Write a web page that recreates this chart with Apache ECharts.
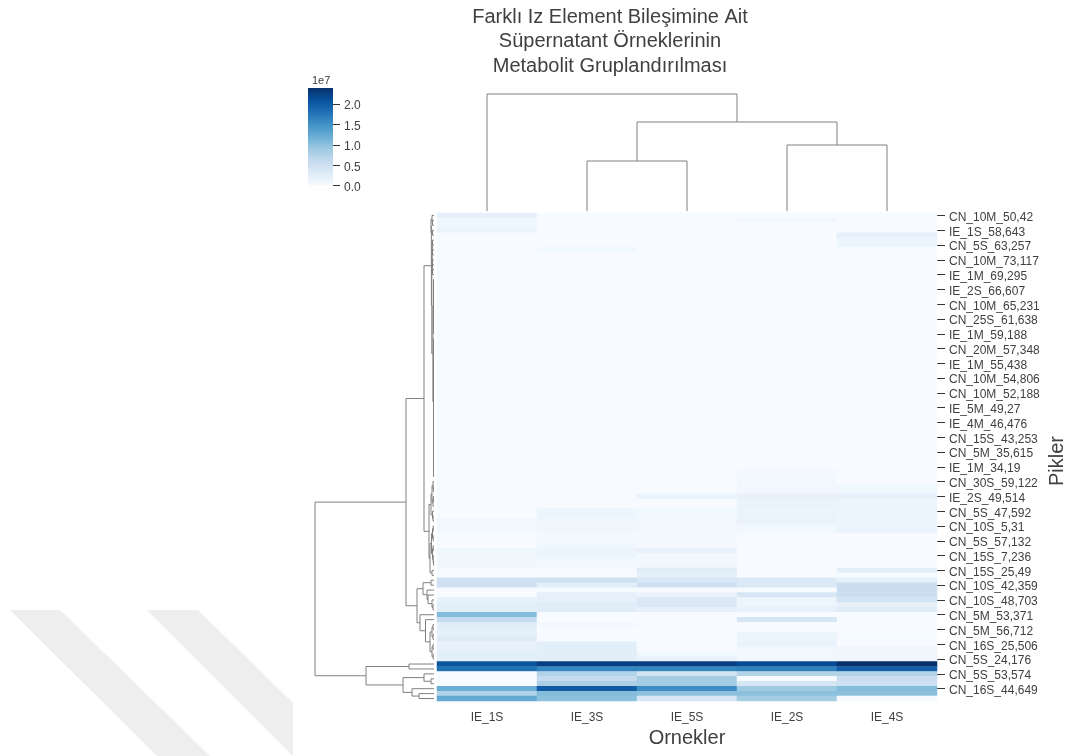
<!DOCTYPE html>
<html>
<head>
<meta charset="utf-8">
<script src="https://cdn.jsdelivr.net/npm/echarts@6/dist/echarts.min.js"></script>
<style>html,body{margin:0;padding:0;background:#fff}#c{width:1068px;height:756px}</style>
</head>
<body>
<div id="c"></div>
<script>
const FONT = '"Liberation Sans", Arial, sans-serif';
const samples = ['IE_1S', 'IE_3S', 'IE_5S', 'IE_2S', 'IE_4S'];
const peakLabels = ['CN_10M_50,42','IE_1S_58,643','CN_5S_63,257','CN_10M_73,117','IE_1M_69,295','IE_2S_66,607','CN_10M_65,231','CN_25S_61,638','IE_1M_59,188','CN_20M_57,348','IE_1M_55,438','CN_10M_54,806','CN_10M_52,188','IE_5M_49,27','IE_4M_46,476','CN_15S_43,253','CN_5M_35,615','IE_1M_34,19','CN_30S_59,122','IE_2S_49,514','CN_5S_47,592','CN_10S_5,31','CN_5S_57,132','CN_15S_7,236','CN_15S_25,49','CN_10S_42,359','CN_10S_48,703','CN_5M_53,371','CN_5M_56,712','CN_16S_25,506','CN_5S_24,176','CN_5S_53,574','CN_16S_44,649'];
const BLUES = ['#f7fbff','#deebf7','#c6dbef','#9ecae1','#6baed6','#4292c6','#2171b5','#08519c','#08306b'];

// values in units of 1e7, one entry per row, top to bottom
const IE_1S = [
 .2,.1,.1,.14,0,0,0,0,0,0,
 0,0,0,0,0,0,0,0,0,0,
 0,0,0,0,0,0,0,0,0,0,
 0,0,0,0,0,0,0,0,0,0,
 0,0,0,0,0,0,0,0,0,0,
 0,0,0,0,0,0,0,0,0,0,
 0,0,.08,.08,.08,0,0,0,.1,.1,
 .1,.1,0,0,.5,.5,0,0,.18,.25,
 .25,1.05,.6,.28,.22,.22,.3,.18,.18,.25,
 .25,2.05,1.8,0,0,0,1.2,.75,1.25];
const IE_3S = [
 0,0,0,0,0,0,0,.08,0,0,
 0,0,0,0,0,0,0,0,0,0,
 0,0,0,0,0,0,0,0,0,0,
 0,0,0,0,0,0,0,0,0,0,
 0,0,0,0,0,0,0,0,0,0,
 0,0,0,0,0,0,0,0,0,0,
 .12,.12,.1,.1,.1,.05,.05,.1,.12,.12,
 .08,.08,0,0,.5,.25,.02,.2,.2,.28,
 .28,0,0,.06,0,0,0,.25,.25,.25,
 .25,2.25,1.6,.75,.6,.8,2.0,1.05,1.0];
const IE_5S = [
 0,0,0,0,0,0,0,0,0,0,
 0,0,0,0,0,0,0,0,0,0,
 0,0,0,0,0,0,0,0,0,0,
 0,0,0,0,0,0,0,0,0,0,
 0,0,0,0,0,0,0,0,0,0,
 0,0,0,0,0,0,0,.15,0,0,
 .08,.08,.08,.08,.08,.05,.05,.05,.18,.08,
 .08,.08,.28,.2,.38,.5,0,.15,.35,.35,
 .2,0,0,0,0,0,0,0,0,.08,
 .15,2.25,1.6,.45,.85,.85,1.55,1.0,.4];
const IE_2S = [
 0,.07,0,0,0,0,0,0,0,0,
 0,0,0,0,0,0,0,0,0,0,
 0,0,0,0,0,0,0,0,0,0,
 0,0,0,0,0,0,0,0,0,0,
 0,0,0,0,0,0,0,0,0,0,
 0,0,.05,.05,.08,.08,.08,.18,.15,.15,
 .12,.15,.15,.08,.08,0,0,0,0,0,
 0,0,0,0,.33,.33,0,.4,.12,.12,
 .18,0,.4,0,0,.12,.12,.15,.08,.08,
 .08,2.15,1.65,.75,0,.4,.9,1.0,.85];
const IE_4S = [
 0,0,0,0,.2,.12,.12,0,0,0,
 0,0,0,0,0,0,0,0,0,0,
 0,0,0,0,0,0,0,0,0,0,
 0,0,0,0,0,0,0,0,0,0,
 0,0,0,0,0,0,0,0,0,0,
 0,0,0,0,0,.08,.08,.2,.12,.12,
 .12,.12,.12,.12,.15,0,0,0,0,0,
 0,0,.25,0,.2,.55,.55,.55,.45,.18,
 .28,0,0,0,0,.02,0,0,.1,.1,
 .1,2.39,1.95,.75,.55,.5,1.05,1.0,0];
const columns = [IE_1S, IE_3S, IE_5S, IE_2S, IE_4S];
const valueMax = 2.39;

// dendrograms: node = [distance, child, child]; leaf = row or column index
const sampleTree = [117, 0, [89, [50, 1, 2], [66, 3, 4]]];
const rowTree = [119,
 [28,
  [10,
   [2.6,
    [3,[2,0,[1.5,1,2]],[1.5,3,4]],
    [2.2,
     [1.9,[1.7,[1.5,5,6],[1.5,7,8]],[1.7,[1.5,9,10],[1.5,11,12]]],
     [1.1,
      [.5,[.5,[.5,13,[.5,14,15]],[.5,16,[.5,17,18]]],[.5,[.5,19,[.5,20,21]],[.5,22,[.5,23,24]]]],
      [.5,
       [.5,[.5,[.5,25,26],[.5,[.5,27,28],[.5,29,30]]],[.5,[.5,[.5,31,32],[.5,33,34]],[.5,[.5,35,36],[.5,37,38]]]],
       [.5,[.5,[.5,39,40],[.5,[.5,41,42],[.5,43,44]]],[.5,[.5,[.5,45,46],[.5,47,48]],[.5,[.5,49,50],[.5,[.5,51,52],53]]]]
      ]
     ]
    ]
   ],
   [5,
    [3,[2,[1,54,[.6,55,56]],[1,[.6,57,58],59]],[1.5,60,[1,61,62]]],
    [4,
     [2.5,[1.5,[.8,63,64],[.8,65,66]],[1.5,[.8,67,68],[.8,69,[.4,70,71]]]],
     [2,72,73]
    ]
   ]
  ],
  [17,
   [11,
    [3,74,75],
    [7,76,[6,77,[2,78,[1,79,80]]]]
   ],
   [14,
    81,
    [8.5,
     82,
     [4,
      [2,[1,83,84],[1,85,86]],
      [2,[1,87,88],[.8,89,90]]
     ]
    ]
   ]
  ]
 ],
 [68,
  [25,91,92],
  [31,
   [10,93,[3,94,95]],
   [22,96,[15,97,98]]
  ]
 ]
];

function linksOf(tree) {
  const links = [];
  (function walk(n) {
    if (typeof n === 'number') return { pos: n + 0.5, d: 0 };
    const a = walk(n[1]), b = walk(n[2]);
    links.push([a.pos, b.pos, n[0], a.d, b.d]);
    return { pos: (a.pos + b.pos) / 2, d: n[0] };
  })(tree);
  return links;
}

const heatData = [];
columns.forEach((col, c) => col.forEach((v, r) => heatData.push([c, r, v * 1e7])));
const rowCats = IE_1S.map((_, r) => (r % 3 === 0 ? peakLabels[r / 3] : ' '.repeat(r % 3)));

function dendroSeries(links, horizontal, gridIdx) {
  return {
    type: 'custom', xAxisIndex: gridIdx, yAxisIndex: gridIdx, clip: false, silent: true,
    data: links,
    encode: horizontal ? { x: [2, 3, 4], y: [0, 1] } : { x: [0, 1], y: [2, 3, 4] },
    renderItem(params, api) {
      const a = api.value(0), b = api.value(1), d = api.value(2), da = api.value(3), db = api.value(4);
      const p = horizontal
        ? [[da, a], [d, a], [d, b], [db, b]]
        : [[a, da], [a, d], [b, d], [b, db]];
      return {
        type: 'polyline',
        shape: { points: p.map(q => api.coord(q)) },
        style: { stroke: '#808080', lineWidth: 1, fill: null }
      };
    }
  };
}

const colorbarSeries = {
  type: 'custom', xAxisIndex: 3, yAxisIndex: 3, silent: true, z: 1,
  data: [[0, 0, 1, valueMax]],
  encode: { x: [0, 2], y: [1, 3] },
  renderItem(params, api) {
    const p0 = api.coord([api.value(0), api.value(1)]);
    const p1 = api.coord([api.value(2), api.value(3)]);
    return {
      type: 'rect',
      shape: { x: p0[0], y: p1[1], width: p1[0] - p0[0], height: p0[1] - p1[1] },
      style: { fill: new echarts.graphic.LinearGradient(0, 1, 0, 0,
        BLUES.map((c, i) => ({ offset: i / (BLUES.length - 1), color: c }))) }
    };
  }
};

const option = {
  animation: false,
  backgroundColor: '#ffffff',
  textStyle: { fontFamily: FONT },
  title: {
    text: 'Farklı Iz Element Bileşimine Ait\nSüpernatant Örneklerinin\nMetabolit Gruplandırılması',
    left: 605, top: 0, textAlign: 'center',
    textStyle: { fontFamily: FONT, fontSize: 20, fontWeight: 'normal', color: '#404040', lineHeight: 24.5 }
  },
  graphic: [
    { type: 'polygon', silent: true, z: -10, shape: { points: [[10,610],[60,610],[210,756],[157,756]] }, style: { fill: '#eeeeee' } },
    { type: 'polygon', silent: true, z: -10, shape: { points: [[147,610],[198,610],[293,703],[293,756]] }, style: { fill: '#eeeeee' } },
    { type: 'text', silent: true, left: 312, top: 75, style: { text: '1e7', fontFamily: FONT, fontSize: 11, fill: '#404040' } },
    { type: 'text', silent: true, x: 1057, y: 461, rotation: Math.PI / 2,
      style: { text: 'Pikler', align: 'center', verticalAlign: 'middle', fontFamily: FONT, fontSize: 20, fill: '#404040' } }
  ],
  grid: [
    { left: 437, top: 213, width: 500, height: 488 },
    { left: 437, top: 94, width: 500, height: 117 },
    { left: 304, top: 213, width: 130, height: 488 },
    { left: 308, top: 88, width: 25, height: 97.7 }
  ],
  xAxis: [
    { type: 'category', gridIndex: 0, data: samples, position: 'bottom',
      axisLine: { show: false }, axisTick: { show: false }, splitArea: { show: false },
      axisLabel: { color: '#404040', fontSize: 12, margin: 11, fontFamily: FONT },
      name: 'Ornekler', nameLocation: 'middle', nameGap: 26,
      nameTextStyle: { color: '#404040', fontSize: 20, fontFamily: FONT } },
    { type: 'value', gridIndex: 1, min: 0, max: 5, show: false },
    { type: 'value', gridIndex: 2, min: 0, max: 130, inverse: true, show: false },
    { type: 'value', gridIndex: 3, min: 0, max: 1, show: false }
  ],
  yAxis: [
    { type: 'category', gridIndex: 0, data: rowCats, inverse: true, position: 'right',
      axisLine: { show: false },
      axisTick: { show: true, interval: 2, length: 8, alignWithLabel: true, lineStyle: { color: '#333333', width: 1 } },
      axisLabel: { interval: 2, color: '#404040', fontSize: 12, margin: 12, verticalAlign: 'top', lineHeight: 4, fontFamily: FONT },
      splitArea: { show: false } },
    { type: 'value', gridIndex: 1, min: 0, max: 117, show: false },
    { type: 'value', gridIndex: 2, min: 0, max: 99, inverse: true, show: false },
    { type: 'value', gridIndex: 3, min: 0, max: valueMax, position: 'right', interval: 0.5,
      splitLine: { show: false }, axisLine: { show: false, onZero: false },
      axisTick: { show: true, length: 7, lineStyle: { color: '#333333' } },
      axisLabel: { color: '#404040', fontSize: 12, margin: 11, verticalAlign: 'top', lineHeight: 4, fontFamily: FONT, showMaxLabel: false,
        formatter: v => v.toFixed(1) } }
  ],
  visualMap: {
    type: 'continuous', min: 0, max: valueMax * 1e7, seriesIndex: 0, show: false,
    inRange: { color: BLUES }
  },
  series: [
    { type: 'heatmap', xAxisIndex: 0, yAxisIndex: 0, data: heatData, silent: true, progressive: 0 },
    dendroSeries(linksOf(sampleTree), false, 1),
    dendroSeries(linksOf(rowTree), true, 2),
    colorbarSeries
  ]
};
echarts.init(document.getElementById('c'), null, { renderer: 'canvas' }).setOption(option);
</script>
</body>
</html>
